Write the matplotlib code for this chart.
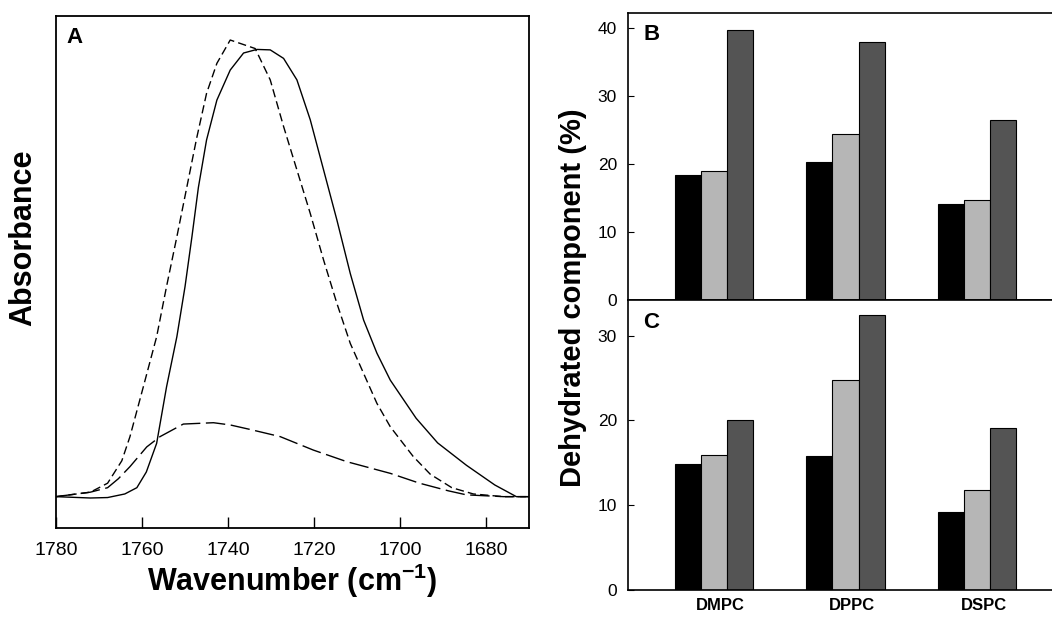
import matplotlib
matplotlib.use("Agg")
import matplotlib.pyplot as plt
import numpy as np

plt.rcParams['font.family'] = ['Liberation Sans', 'DejaVu Sans']
plt.rcParams['mathtext.fontset'] = 'custom'
plt.rcParams['mathtext.rm'] = 'Liberation Sans'
plt.rcParams['mathtext.bf'] = 'Liberation Sans:bold'

# panel A spectra
wn_solid = [1780, 1772, 1768, 1764, 1761.2, 1759, 1756.6, 1754.3, 1751.9, 1750.0, 1748.4,
            1746.9, 1745.0, 1742.6, 1739.5, 1736.4, 1733.3, 1730.2, 1727.1, 1724.0, 1720.9,
            1717.8, 1714.7, 1711.6, 1708.5, 1705.4, 1702.3, 1696.3, 1691.3, 1684.6, 1678,
            1673, 1670]
abs_solid = [0, -0.003, -0.002, 0.006, 0.02, 0.055, 0.119, 0.245, 0.357, 0.469, 0.58,
             0.69, 0.796, 0.885, 0.952, 0.99, 0.998, 0.997, 0.978, 0.93, 0.841,
             0.729, 0.617, 0.498, 0.394, 0.32, 0.26, 0.175, 0.12, 0.07, 0.026,
             0.0, 0.0]

wn_dash = [1780, 1772, 1768, 1764.7, 1762.8, 1759.7, 1756.6, 1754.3, 1751.9, 1749.6, 1747.3,
           1745.0, 1742.6, 1739.5, 1733.7, 1730.2, 1727.1, 1724.0, 1720.9, 1717.8, 1714.7,
           1711.6, 1708.5, 1705.4, 1702.3, 1697, 1693, 1688, 1683, 1676, 1670]
abs_dash = [0, 0.01, 0.03, 0.08, 0.134, 0.245, 0.357, 0.469, 0.58, 0.69, 0.80,
            0.90, 0.967, 1.019, 1.0, 0.93, 0.826, 0.729, 0.632, 0.528, 0.431,
            0.342, 0.275, 0.208, 0.156, 0.09, 0.05, 0.02, 0.006, 0.0, 0.0]

wn_long = [1780, 1772, 1768, 1765.5, 1762.8, 1758.9, 1755.8, 1750.4, 1743.4, 1739.5, 1734.9,
           1727.9, 1720.2, 1712.4, 1702.3, 1695.5, 1688.8, 1684.6, 1676, 1670]
abs_long = [0, 0.01, 0.02, 0.04, 0.067, 0.111, 0.134, 0.162, 0.165, 0.16, 0.15,
            0.134, 0.104, 0.078, 0.052, 0.03, 0.013, 0.004, 0.0, 0.0]

# panels B and C
lipids = ["DMPC", "DPPC", "DSPC"]
b_black = [18.4, 20.2, 14.05]
b_light = [18.9, 24.35, 14.7]
b_dark = [39.7, 37.9, 26.5]
c_black = [14.9, 15.8, 9.25]
c_light = [15.9, 24.8, 11.8]
c_dark = [20.1, 32.4, 19.1]

fig = plt.figure(figsize=(10.52, 6.18), dpi=100)

# ---- panel A
axA = fig.add_axes([0.0532, 0.1456, 0.4499, 0.8288])
axA.plot(wn_solid, abs_solid, color='black', lw=1.0)
axA.plot(wn_dash, abs_dash, color='black', lw=1.0, dashes=(6, 3))
axA.plot(wn_long, abs_long, color='black', lw=1.0, dashes=(14, 4))
axA.set_xlim(1780, 1670)
axA.set_ylim(-0.070, 1.073)
axA.set_xticks([1780, 1760, 1740, 1720, 1700, 1680])
axA.set_yticks([])
axA.tick_params(axis='x', direction='in', length=8, width=1, labelsize=14, pad=10)
for s in axA.spines.values():
    s.set_linewidth(1.3)
axA.text(0.022, 0.978, "A", transform=axA.transAxes, fontsize=16, fontweight='bold',
         va='top', ha='left')
axA.set_xlabel(r"Wavenumber (cm$^{\mathbf{-1}}$)", fontsize=22, fontweight='bold', labelpad=2)
fig.text(0.022, 1 - 238 / 618, "Absorbance", rotation=90, fontsize=22, fontweight='bold',
         ha='center', va='center')

# ---- panels B and C
x = np.arange(len(lipids))
w = 0.2
cols = ['black', '#b6b6b6', '#545454']

axB = fig.add_axes([628 / 1052, (618 - 300) / 618, (1052 - 628) / 1052, (300 - 13.3) / 618])
axC = fig.add_axes([628 / 1052, (618 - 590) / 618, (1052 - 628) / 1052, 290 / 618])

for ax, vals in [(axB, [b_black, b_light, b_dark]), (axC, [c_black, c_light, c_dark])]:
    for k, v in enumerate(vals):
        ax.bar(x + (k - 1) * w, v, w, color=cols[k], edgecolor='black', linewidth=0.8)
    ax.set_xlim(-0.654, 2.57)
    ax.spines['right'].set_visible(False)
    ax.tick_params(axis='y', direction='in', length=4, labelsize=12.5, pad=8)
    for s in ax.spines.values():
        s.set_linewidth(1.2)

axB.set_ylim(0, 42.1)
axB.set_yticks([0, 10, 20, 30, 40])
axB.set_xticks([])
axB.text(0.036, 0.962, "B", transform=axB.transAxes, fontsize=16, fontweight='bold',
         va='top', ha='left')

axC.set_ylim(0, 34.2)
axC.set_yticks([0, 10, 20, 30])
axC.set_xticks(x + 0.05)
axC.set_xticklabels(lipids, fontsize=12, fontweight='bold')
axC.tick_params(axis='x', length=0, pad=6)
axC.text(0.036, 0.96, "C", transform=axC.transAxes, fontsize=16, fontweight='bold',
         va='top', ha='left')

fig.text(573 / 1052, 1 - 298 / 618, "Dehydrated component (%)", rotation=90, fontsize=21,
         fontweight='bold', ha='center', va='center')

fig.savefig("out.png", dpi=100)
